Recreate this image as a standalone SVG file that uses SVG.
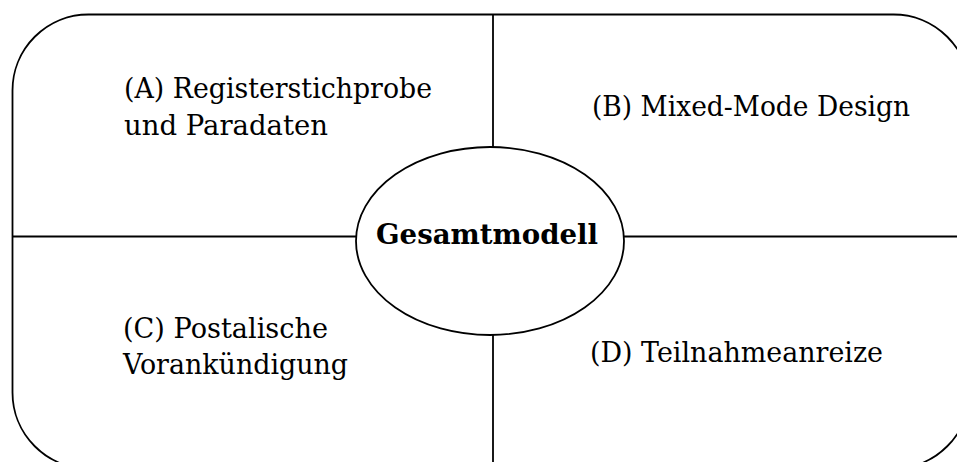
<svg xmlns="http://www.w3.org/2000/svg" width="957" height="462" viewBox="0 0 957 462">
<style>
.ln{stroke:#000;stroke-width:1.8;fill:none}
.t{font-family:"DejaVu Serif","Liberation Serif",serif;font-size:28px;fill:#000}
.b{font-weight:bold}
</style>
<rect width="957" height="462" fill="#fff"/>
<g id="frame">
<rect class="ln" x="12.5" y="14.5" width="957" height="454" rx="76" ry="76"/>
</g>
<g id="connectors">
<line class="ln" x1="493" y1="14.5" x2="493" y2="147"/>
<line class="ln" x1="493" y1="335" x2="493" y2="470"/>
<line class="ln" x1="12.5" y1="236.5" x2="356" y2="236.5"/>
<line class="ln" x1="624" y1="236.5" x2="970" y2="236.5"/>
</g>
<g id="nodeA">
<text class="t" x="124" y="98" textLength="308" lengthAdjust="spacingAndGlyphs">(A) Registerstichprobe</text>
<text class="t" x="124" y="135" textLength="204" lengthAdjust="spacingAndGlyphs">und Paradaten</text>
</g>
<g id="nodeB">
<text class="t" x="592" y="116" textLength="318" lengthAdjust="spacingAndGlyphs">(B) Mixed-Mode Design</text>
</g>
<g id="nodeC">
<text class="t" x="123" y="338" textLength="205" lengthAdjust="spacingAndGlyphs">(C) Postalische</text>
<text class="t" x="123" y="374" textLength="225" lengthAdjust="spacingAndGlyphs">Vorankündigung</text>
</g>
<g id="nodeD">
<text class="t" x="590" y="362" textLength="293" lengthAdjust="spacingAndGlyphs">(D) Teilnahmeanreize</text>
</g>
<g id="center">
<ellipse class="ln" cx="490" cy="241" rx="134" ry="94" fill="#fff"/>
<text class="t b" x="376" y="244" textLength="222" lengthAdjust="spacingAndGlyphs">Gesamtmodell</text>
</g>
</svg>
